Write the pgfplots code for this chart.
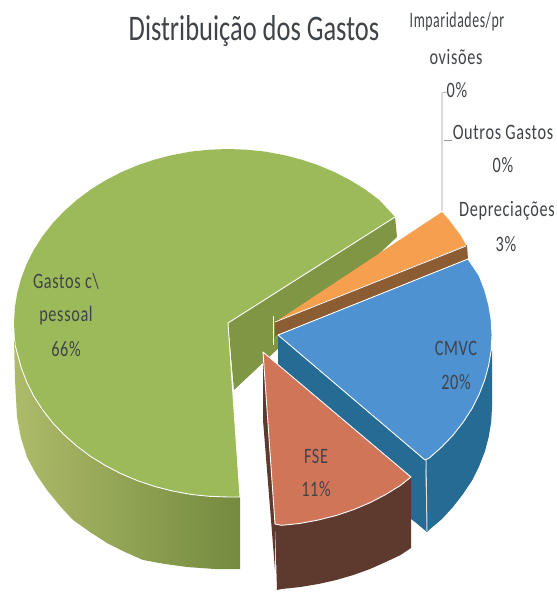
\documentclass[border=0pt]{standalone}
\usepackage{fontspec}
\setmainfont{Carlito}
\newfontfamily\lbl[LetterSpace=4]{Carlito}
\usepackage{pgfplots}
\pgfplotsset{compat=1.18}

\definecolor{greentop}{HTML}{9CBA59}
\definecolor{greenwall}{HTML}{7F9644}
\definecolor{greenside}{HTML}{ADBB69}
\definecolor{greensided}{HTML}{748A3F}
\definecolor{orangetop}{HTML}{F6A04F}
\definecolor{brownwall}{HTML}{8C5C33}
\definecolor{bluetop}{HTML}{4E92D2}
\definecolor{bluewall}{HTML}{256B94}
\definecolor{salmontop}{HTML}{D17559}
\definecolor{salmonwall}{HTML}{5E3A2E}
\definecolor{labeltext}{HTML}{404448}

\begin{document}
\begin{tikzpicture}[lab/.style={font=\lbl\fontsize{22}{24}\selectfont, text=labeltext, inner sep=0pt, anchor=center, xscale=0.74}]
\useasboundingbox (0,0) rectangle (557pt,592pt);
\begin{axis}[
    scale only axis,
    width=557pt,
    height=592pt,
    xmin=0, xmax=557,
    ymin=0, ymax=592,
    y dir=reverse,
    hide axis,
    clip=false,
    every axis plot/.append style={line join=round},
]
% gastos c/ pessoal, side and cut wall
\addplot[draw=none, left color=greenside, right color=greensided] coordinates {
    (14,340) (15,380) (17,417) (21,438) (27,457) (36,474) (47,490) (60,506) (73,520) (90,532)
    (107,543) (125,552) (143,560) (165,564) (187,567) (215,569) (240,569) (240,497) (190,494)
    (100,462) (60,431) (33,396)
} -- cycle;
\addplot[draw=none, fill=greenwall] coordinates {
    (228,323) (395,217) (397,237) (234,390)
} -- cycle;
% gastos c/ pessoal, top
\addplot[draw=none, fill=greentop] coordinates {
    (395,217) (379.3,200) (365.6,189.7) (350.7,180.5) (335,172.3) (318.4,165.3) (301.2,159.5)
    (283.4,155) (265.2,151.6) (246.7,149.7) (228,149) (209.3,149.7) (190.8,151.6) (172.6,155)
    (154.8,159.5) (137.6,165.3) (121,172.3) (105.3,180.5) (90.4,189.7) (76.7,200) (64.1,211.2)
    (52.7,223.2) (42.7,236) (34,249.5) (26.9,263.5) (21.3,278) (17.3,292.8) (14.8,307.8) (14,323)
    (14.8,338.2) (17.3,353.2) (21.3,368) (26.9,382.5) (34,396.5) (42.7,410) (52.7,422.8)
    (64.1,434.8) (76.7,446) (90.4,456.3) (105.3,465.5) (121,473.7) (137.6,480.7) (154.8,486.5)
    (172.6,491) (190.8,494.4) (209.3,496.3) (228,497) (240,497) (228,323)
} -- cycle;
% white rim where the top meets the walls
\addplot[draw=white, line width=0.9pt] coordinates {
    (15,345) (17.3,353.2) (21.3,368) (26.9,382.5) (34,396.5) (42.7,410) (52.7,422.8)
    (64.1,434.8) (76.7,446) (90.4,456.3) (105.3,465.5) (121,473.7) (137.6,480.7) (154.8,486.5)
    (172.6,491) (190.8,494.4) (209.3,496.3) (228,497) (240,497) (228,323) (395,217)
};
% depreciacoes
\addplot[draw=none, fill=brownwall] coordinates {
    (275,321) (467,245) (468,259) (275,336)
} -- cycle;
\addplot[draw=none, fill=orangetop] coordinates {
    (277,321) (442,212) (449,220) (455,228) (461,236) (466,245)
} -- cycle;
\addplot[draw=white, line width=0.8pt] coordinates {(275,322) (466,246)};
\addplot[draw=white, line width=1pt] coordinates {(273,316) (273,345)};
% cmvc
\addplot[draw=none, fill=bluewall] coordinates {
    (278,335) (425,460) (427,532) (415,522) (278,420)
} -- cycle;
\addplot[draw=none, fill=bluewall] coordinates {
    (425,460) (492,350) (492,407) (491.2,422) (488.7,437) (484.7,452) (479,466.5) (472,480.5)
    (463,494) (453,507) (442,519) (429,530) (427,532)
} -- cycle;
\addplot[draw=white!75!gray, line width=1pt] coordinates {(426,460) (427,531)};
\addplot[draw=white, line width=0.9pt, fill=bluetop] coordinates {
    (278,335) (468,259) (479.1,275.5) (484.7,290) (488.7,304.8) (491.2,319.8) (492,335)
    (491.2,350.2) (488.7,365.2) (484.7,380) (479.1,394.5) (472,408.5) (463.3,422) (453.3,434.8)
    (441.9,446.8) (429.3,458) (425,460)
} -- cycle;
% fse
\addplot[draw=none, fill=salmonwall] coordinates {
    (275,523) (411,477) (411,548) (400.6,555) (385.7,562) (370,569) (353.4,575) (336.2,580)
    (318.4,584) (300.2,587) (281.7,589) (277,590)
} -- cycle;
\addplot[draw=none, fill=salmonwall] coordinates {
    (263,352) (275,523) (275,570) (263,420)
} -- cycle;
\addplot[draw=white, line width=0.9pt, fill=salmontop] coordinates {
    (263,352) (411,477) (400.6,485.3) (385.7,494.5) (370,502.7) (353.4,509.7) (336.2,515.5)
    (318.4,520) (300.2,523.4) (281.7,525.3) (275,524)
} -- cycle;
% leader lines
\addplot[draw=gray!80, line width=0.6pt] coordinates {(447,92) (442,93) (442,211)};
\addplot[draw=gray!80, line width=0.6pt] coordinates {(444,140) (452,140)};
% text
\node[font=\fontsize{36}{38}\selectfont, text=labeltext, anchor=center, xscale=0.735] at (axis cs:254,31) {Distribuição dos Gastos};
\node[lab, xscale=0.85] at (axis cs:457,22) {Imparidades/pr};
\node[lab] at (axis cs:456,57) {ovisões};
\node[lab] at (axis cs:457,90) {0\%};
\node[lab] at (axis cs:503,132) {Outros Gastos};
\node[lab] at (axis cs:503,165) {0\%};
\node[lab] at (axis cs:507,211) {Depreciações};
\node[lab] at (axis cs:506,244) {3\%};
\node[lab] at (axis cs:66,281) {Gastos c\textbackslash};
\node[lab] at (axis cs:66,316) {pessoal};
\node[lab] at (axis cs:66,349) {66\%};
\node[lab] at (axis cs:456,348) {CMVC};
\node[lab] at (axis cs:456,382) {20\%};
\node[lab] at (axis cs:316,456) {FSE};
\node[lab] at (axis cs:316,489) {11\%};
\end{axis}
\end{tikzpicture}
\end{document}
